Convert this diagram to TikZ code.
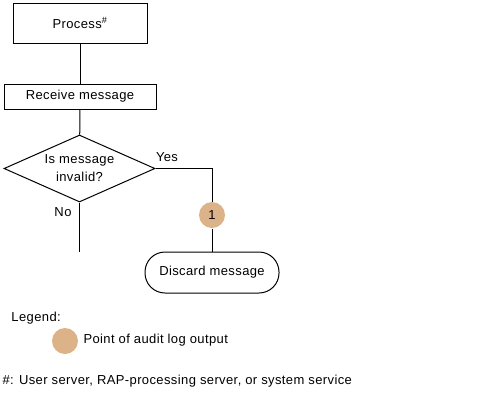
\documentclass[tikz,border=0pt]{standalone}
\usepackage{fontspec}
\setmainfont[LetterSpace=3]{Liberation Sans}
\usetikzlibrary{shapes.geometric,positioning}
\definecolor{auditfill}{RGB}{220,178,137}

\begin{document}
\begin{tikzpicture}[x=1pt,y=-1pt,line width=1pt,
  font=\fontsize{13}{18}\selectfont,
  procbox/.style={draw,rectangle,inner sep=0pt},
  decision/.style={draw,diamond,aspect=2.25,inner sep=0pt,align=center},
  endbox/.style={draw,rectangle,rounded corners=20pt,inner sep=0pt},
  auditpt/.style={circle,fill=auditfill,inner sep=0pt,minimum size=26pt}]

  \useasboundingbox (0,0) rectangle (487,400);

  % flow nodes
  \node[procbox,minimum width=134pt,minimum height=40pt] (proc) at (80,23) {Process\textsuperscript{\#}};
  \node[procbox,minimum width=152pt,minimum height=25pt] (recv) at (80,96.5) {Receive message};
  \node[decision,minimum width=151pt,minimum height=67pt] (check) at (79.5,168.5) {Is message\\invalid?};
  \node[auditpt] (log1) at (212,215) {1};
  \node[endbox,minimum width=134pt,minimum height=41pt] (discard) at (212,272.5) {Discard message};
  \coordinate (noend) at (79.5,252);

  % connectors
  \draw (proc) -- (recv);
  \draw (recv) -- (check);
  \draw (check.east) -| (log1);
  \draw (log1) -- (discard);
  \draw (check.south) -- (noend);

  % branch labels
  \node (yes) at (167,157) {Yes};
  \node (no) at (63,212) {No};

  % legend
  \node[anchor=west,inner sep=0pt] (legend) at (11,318) {Legend:};
  \node[auditpt] (legpt) at (65,341) {};
  \node[anchor=west,inner sep=0pt] (legtext) at (83,340) {Point of audit log output};
  \node[anchor=west,inner sep=0pt] (note) at (2,381) {\#: User server, RAP-processing server, or system service};

\end{tikzpicture}
\end{document}
